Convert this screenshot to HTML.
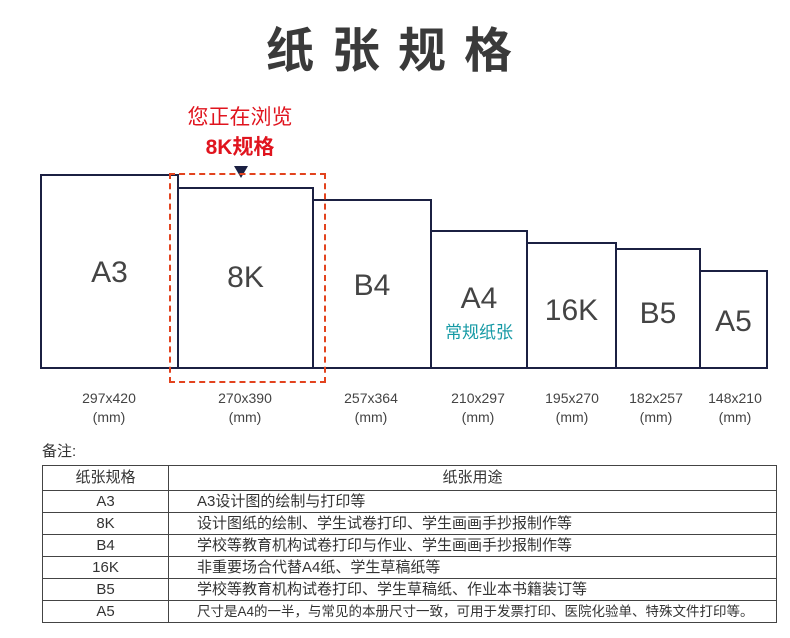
<!DOCTYPE html>
<html><head><meta charset="utf-8"><style>
body{margin:0;width:790px;height:638px;background:#fff;position:relative;overflow:hidden;font-family:"Liberation Sans","Noto Sans CJK SC",sans-serif;}
.a{position:absolute}
.b{position:absolute;border:2px solid #1b2042;box-sizing:border-box;background:#fff}
.lbl{position:absolute;color:#444;font-size:30px;text-align:center;width:100%;left:0}
.dim{position:absolute;color:#444;font-size:14px;text-align:center;width:90px;line-height:19px}
table{position:absolute;left:42px;top:465px;width:735px;border-collapse:collapse;font-size:15px;color:#333}
td{border:1px solid #444;height:21px;padding:0;line-height:20px}
td.c{text-align:center;font-size:15px}
</style></head><body>
<div class="a" style="left:266px;top:16px;font-size:48px;font-weight:bold;color:#3a3a3a;letter-spacing:18px;font-family:'Noto Sans CJK SC',sans-serif;line-height:60px">纸张规格</div>
<div class="a" style="left:150px;top:104px;width:180px;text-align:center;color:#e0141e;font-size:21px;line-height:28px">您正在浏览</div>
<div class="a" style="left:150px;top:134px;width:180px;text-align:center;color:#e0141e;font-size:21px;font-weight:bold;line-height:28px">8K规格</div>
<div class="a" style="left:234px;top:166px;width:0;height:0;border-left:7px solid transparent;border-right:7px solid transparent;border-top:12px solid #1b2042"></div>

<div class="b" style="left:40px;top:174px;width:139px;height:195px"><div class="lbl" style="top:80px">A3</div></div>
<div class="b" style="left:177px;top:187px;width:137px;height:182px"><div class="lbl" style="top:72px">8K</div></div>
<div class="b" style="left:312px;top:199px;width:120px;height:170px"><div class="lbl" style="top:68px">B4</div></div>
<div class="b" style="left:430px;top:230px;width:98px;height:139px"><div class="lbl" style="top:50px">A4</div><div class="a" style="left:0;width:100%;text-align:center;top:86px;color:#169aa5;font-size:17px">常规纸张</div></div>
<div class="b" style="left:526px;top:242px;width:91px;height:127px"><div class="lbl" style="top:50px">16K</div></div>
<div class="b" style="left:615px;top:248px;width:86px;height:121px"><div class="lbl" style="top:47px">B5</div></div>
<div class="b" style="left:699px;top:270px;width:69px;height:99px"><div class="lbl" style="top:33px">A5</div></div>
<div class="a" style="left:169px;top:173px;width:157px;height:210px;border:2px dashed #e2431e;box-sizing:border-box"></div>

<div class="dim" style="left:64px;top:389px">297x420<br>(mm)</div>
<div class="dim" style="left:200px;top:389px">270x390<br>(mm)</div>
<div class="dim" style="left:326px;top:389px">257x364<br>(mm)</div>
<div class="dim" style="left:433px;top:389px">210x297<br>(mm)</div>
<div class="dim" style="left:527px;top:389px">195x270<br>(mm)</div>
<div class="dim" style="left:611px;top:389px">182x257<br>(mm)</div>
<div class="dim" style="left:690px;top:389px">148x210<br>(mm)</div>

<div class="a" style="left:42px;top:440px;font-size:15px;color:#333">备注:</div>
<table>
<tr><td class="c" style="width:125px;height:24px">纸张规格</td><td class="c">纸张用途</td></tr>
<tr><td class="c">A3</td><td style="padding-left:28px">A3设计图的绘制与打印等</td></tr>
<tr><td class="c">8K</td><td style="padding-left:28px">设计图纸的绘制、学生试卷打印、学生画画手抄报制作等</td></tr>
<tr><td class="c">B4</td><td style="padding-left:28px">学校等教育机构试卷打印与作业、学生画画手抄报制作等</td></tr>
<tr><td class="c">16K</td><td style="padding-left:28px">非重要场合代替A4纸、学生草稿纸等</td></tr>
<tr><td class="c">B5</td><td style="padding-left:28px">学校等教育机构试卷打印、学生草稿纸、作业本书籍装订等</td></tr>
<tr><td class="c">A5</td><td style="padding-left:28px;font-size:13.5px;white-space:nowrap">尺寸是A4的一半，与常见的本册尺寸一致，可用于发票打印、医院化验单、特殊文件打印等。</td></tr>
</table>
</body></html>
